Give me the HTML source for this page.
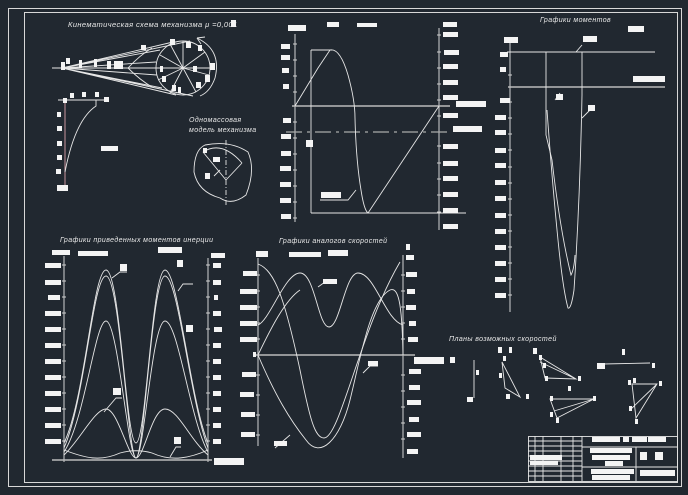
<!DOCTYPE html>
<html><head><meta charset="utf-8"><style>
html,body{margin:0;padding:0;background:#212830;}
svg{display:block}
text{font-family:"Liberation Sans","DejaVu Sans",sans-serif;font-style:italic;fill:#e8e8e8;font-size:7px;letter-spacing:0.4px}
</style></head><body>
<svg width="688" height="495" viewBox="0 0 688 495" xmlns="http://www.w3.org/2000/svg">
<rect width="688" height="495" fill="#212830"/>
<g fill="none" stroke="#d8d8d8" stroke-width="1">
<rect x="8.5" y="8.5" width="673" height="478"/>
<rect x="24.5" y="12.5" width="653" height="470"/>
</g>
<g fill="none" stroke="#e6e6e6" stroke-width="0.9">
<line x1="52" y1="68" x2="214" y2="68"/>
<circle cx="183" cy="68" r="27"/>
<path d="M62 68 L173 42 M62 68 L190 41 M62 68 L176 95 M62 68 L193 96 M62 68 L156 62 M62 68 L157 75 M62 68 L160 50 M62 68 L162 88"/>
<path d="M183 68 L183 41 M183 68 L205 52 M183 68 L209 75 M183 68 L196 92 M183 68 L170 93 M183 68 L158 80 M183 68 L160 55 M183 68 L170 44"/>
<path d="M128 68 Q140 55 152 48 M128 68 Q140 80 152 87"/>
<path d="M197 38 Q222 50 215 78 Q210 92 200 96"/>
<path d="M197 38 l8 -1 M197 38 l4 6"/>
<line x1="58" y1="100" x2="108" y2="100"/>
<line x1="65" y1="100" x2="65" y2="190" stroke="#d9a0a8"/>
<path d="M96 100 L96 106 Q75 120 65 172"/>
<path d="M205 145 Q230 140 248 152 Q256 170 246 195 Q232 206 220 198 Q198 192 194 172 Q194 150 205 145 Z"/>
<path d="M203 152 L226 180 L242 163 M203 152 Q222 140 242 163"/>
<line x1="226" y1="140" x2="226" y2="205" stroke-dasharray="5 2 1 2"/>
<line x1="214" y1="176" x2="220" y2="170"/>
<line x1="295" y1="34" x2="295" y2="222"/>
<line x1="439" y1="28" x2="439" y2="230"/>
<line x1="292" y1="106" x2="450" y2="106" stroke-width="1.5" stroke="#bbb"/>
<line x1="286" y1="132" x2="448" y2="132" stroke-dasharray="16 5 3 5" stroke="#aaa" stroke-width="1.3"/>
<line x1="311" y1="50" x2="311" y2="213"/>
<line x1="311" y1="50" x2="332" y2="50"/>
<line x1="311" y1="213" x2="466" y2="213"/>
<path d="M295 106 L318 68 L330 50 Q340 48 348 75 Q355 100 355 118 Q356 160 361 190 Q364 210 368 213 L439 106"/>
<path d="M320 200 L348 200 L356 190"/>
<line x1="510" y1="38" x2="510" y2="312"/>
<line x1="507" y1="52" x2="655" y2="52"/>
<line x1="508" y1="87" x2="665" y2="87" stroke-width="1.5" stroke="#bbb"/>
<path d="M546 52 L546 135 L552 160 Q560 230 571 275 Q574 270 575 255"/>
<path d="M582 52 L582 95 Q580 200 574 290 Q571 310 568 308 Q563 290 558 240 Q552 180 547 110"/>
<path d="M576 52 L582 45 M555 100 L560 93 M582 118 L590 110"/>
<line x1="64" y1="256" x2="64" y2="462"/>
<line x1="208" y1="258" x2="208" y2="462"/>
<line x1="52" y1="460" x2="212" y2="460" stroke-width="1.5" stroke="#bbb"/>
<path d="M64 443 C85 400 93 270 106 270 C120 270 126 443 136 443 C146 443 152 270 165 270 C178 270 190 400 208 443"/>
<path d="M64 448 C85 400 93 276 106 276 C120 276 128 458 136 458 C144 458 152 276 165 276 C178 276 190 400 208 448"/>
<path d="M64 452 C85 420 95 321 106 321 C118 321 128 458 136 458 C144 458 152 321 165 321 C178 321 190 420 208 452"/>
<path d="M64 455 C80 440 95 409 106 409 C118 409 128 458 136 458 C144 458 152 409 165 409 C178 409 190 440 208 455"/>
<path d="M64 450 C85 458 100 462 120 453 C130 450 142 450 152 453 C172 462 190 458 208 450"/>
<path d="M112 278 L120 272 L127 272 M178 291 L183 284 L193 284 M104 412 L116 398 L122 398 M170 457 L176 447 L181 447"/>
<line x1="258" y1="258" x2="258" y2="446"/>
<line x1="403" y1="255" x2="403" y2="458"/>
<line x1="256" y1="355" x2="415" y2="355" stroke-width="1.5" stroke="#bbb"/>
<path d="M258 264 C275 270 285 300 300 370 C310 420 315 438 324 438 C340 438 360 330 400 262"/>
<path d="M258 325 C270 320 285 273 300 273 C315 273 318 327 329 327 C340 327 345 273 358 273 C375 273 385 320 403 325"/>
<path d="M258 355 C275 395 290 420 306 440 C320 460 340 440 350 400 C360 360 370 300 390 290 C398 287 402 300 403 355"/>
<path d="M258 355 C270 330 285 300 300 290"/>
<path d="M318 287 L325 282 L335 282 M363 373 L370 366 L378 366 M275 448 L290 435"/>
<line x1="474" y1="360" x2="474" y2="398"/>
<path d="M502 362 L505 388 L520 397 Z"/>
<path d="M540 357 L576 379 L545 378 Z M540 362 L576 379"/>
<path d="M550 399 L594 399 L557 418 Z M554 411 L594 399"/>
<path d="M603 364 L650 363"/>
<path d="M632 384 L657 384 L636 418 Z M630 410 L657 384"/>
<rect x="528.5" y="436.5" width="149" height="45"/>
<line x1="582" y1="436" x2="582" y2="481"/>
<line x1="636" y1="447" x2="636" y2="481"/>
<line x1="582" y1="447" x2="678" y2="447"/>
<line x1="582" y1="467" x2="678" y2="467"/>
<path d="M528 441 H582 M528 446 H582 M528 451 H582 M528 456 H582 M528 461 H582 M528 466 H582 M528 471 H582 M528 476 H582"/>
<path d="M535 436 V481 M543 436 V481 M561 436 V481 M573 436 V481"/>
</g>
<g stroke="#cfcfcf" stroke-width="1">
<path d="M293 44h4M293 60h4M293 76h4M293 92h4M293 122h4M293 138h4M293 154h4M293 170h4M293 186h4M293 202h4M293 218h4"/>
<path d="M437 35h4M437 52h4M437 68h4M437 84h4M437 100h4M437 116h4M437 146h4M437 163h4M437 179h4M437 195h4M437 212h4"/>
<path d="M508 75h4M508 102h4M508 118h4M508 134h4M508 150h4M508 167h4M508 183h4M508 199h4M508 215h4M508 231h4M508 247h4M508 263h4M508 279h4M508 295h4"/>
<path d="M62 265h4M62 281h4M62 297h4M62 313h4M62 329h4M62 345h4M62 361h4M62 377h4M62 393h4M62 409h4M62 425h4M62 441h4"/>
<path d="M206 265h4M206 281h4M206 297h4M206 313h4M206 329h4M206 345h4M206 361h4M206 377h4M206 393h4M206 409h4M206 425h4M206 441h4"/>
<path d="M256 275h4M256 291h4M256 307h4M256 323h4M256 339h4M256 375h4M256 395h4M256 415h4M256 435h4"/>
<path d="M401 275h4M401 291h4M401 307h4M401 323h4M401 339h4M401 375h4M401 391h4M401 407h4M401 423h4M401 439h4"/>
</g>
<text x="68" y="27" style="font-size:7.5px">Кинематическая схема механизма  μ =0,001</text>
<text x="189" y="122">Одномассовая</text>
<text x="189" y="132">модель механизма</text>
<text x="540" y="22">Графики моментов</text>
<text x="60" y="242">Графики приведенных моментов инерции</text>
<text x="279" y="243">Графики аналогов скоростей</text>
<text x="449" y="341">Планы возможных скоростей</text>
<g fill="#f4f4f4">
<rect x="231" y="20" width="5" height="7"/>
<rect x="281" y="44" width="9" height="5"/><rect x="281" y="55" width="9" height="5"/><rect x="282" y="68" width="7" height="5"/><rect x="283" y="84" width="6" height="5"/><rect x="283" y="118" width="8" height="5"/><rect x="281" y="134" width="10" height="5"/><rect x="281" y="151" width="10" height="5"/><rect x="280" y="166" width="11" height="5"/><rect x="280" y="182" width="11" height="5"/><rect x="280" y="198" width="11" height="5"/><rect x="281" y="214" width="10" height="5"/>
<rect x="288" y="25" width="18" height="6"/><rect x="327" y="22" width="12" height="5"/><rect x="357" y="23" width="20" height="4"/>
<rect x="443" y="22" width="14" height="5"/><rect x="443" y="32" width="15" height="5"/><rect x="444" y="50" width="15" height="5"/><rect x="443" y="64" width="15" height="5"/><rect x="443" y="80" width="15" height="5"/><rect x="443" y="95" width="15" height="5"/><rect x="443" y="113" width="15" height="5"/><rect x="443" y="144" width="15" height="5"/><rect x="443" y="161" width="15" height="5"/><rect x="443" y="176" width="15" height="5"/><rect x="443" y="192" width="15" height="5"/><rect x="443" y="208" width="15" height="5"/><rect x="443" y="224" width="15" height="5"/>
<rect x="456" y="101" width="30" height="6"/><rect x="453" y="126" width="29" height="6"/><rect x="306" y="140" width="7" height="7"/><rect x="321" y="192" width="20" height="6"/>
<rect x="504" y="37" width="14" height="6"/><rect x="628" y="26" width="16" height="6"/><rect x="583" y="36" width="14" height="6"/><rect x="633" y="76" width="32" height="6"/>
<rect x="500" y="52" width="8" height="5"/><rect x="500" y="67" width="6" height="5"/><rect x="500" y="98" width="10" height="5"/><rect x="495" y="115" width="11" height="5"/><rect x="495" y="130" width="11" height="5"/><rect x="495" y="148" width="11" height="5"/><rect x="495" y="163" width="11" height="5"/><rect x="495" y="180" width="11" height="5"/><rect x="495" y="196" width="11" height="5"/><rect x="495" y="213" width="11" height="5"/><rect x="495" y="229" width="11" height="5"/><rect x="495" y="245" width="11" height="5"/><rect x="495" y="261" width="11" height="5"/><rect x="495" y="277" width="11" height="5"/><rect x="495" y="293" width="11" height="5"/>
<rect x="556" y="94" width="7" height="6"/><rect x="588" y="105" width="7" height="6"/>
<rect x="45" y="263" width="16" height="5"/><rect x="45" y="280" width="16" height="5"/><rect x="48" y="295" width="12" height="5"/><rect x="45" y="311" width="16" height="5"/><rect x="45" y="327" width="16" height="5"/><rect x="45" y="343" width="16" height="5"/><rect x="45" y="359" width="16" height="5"/><rect x="45" y="375" width="16" height="5"/><rect x="45" y="391" width="16" height="5"/><rect x="45" y="407" width="16" height="5"/><rect x="45" y="423" width="16" height="5"/><rect x="45" y="439" width="16" height="5"/>
<rect x="52" y="250" width="18" height="5"/><rect x="78" y="251" width="30" height="5"/><rect x="158" y="247" width="24" height="6"/><rect x="211" y="253" width="14" height="5"/>
<rect x="213" y="263" width="8" height="5"/><rect x="213" y="280" width="8" height="5"/><rect x="214" y="295" width="4" height="5"/><rect x="213" y="311" width="8" height="5"/><rect x="214" y="327" width="8" height="5"/><rect x="213" y="343" width="8" height="5"/><rect x="213" y="359" width="8" height="5"/><rect x="213" y="375" width="8" height="5"/><rect x="213" y="391" width="8" height="5"/><rect x="213" y="407" width="8" height="5"/><rect x="213" y="423" width="8" height="5"/><rect x="213" y="439" width="8" height="5"/>
<rect x="214" y="458" width="30" height="7"/><rect x="120" y="264" width="7" height="7"/><rect x="177" y="260" width="6" height="7"/><rect x="186" y="325" width="7" height="7"/><rect x="113" y="388" width="8" height="7"/><rect x="174" y="437" width="7" height="7"/>
<rect x="256" y="251" width="12" height="6"/><rect x="289" y="252" width="32" height="5"/><rect x="328" y="250" width="20" height="6"/><rect x="406" y="244" width="4" height="6"/>
<rect x="243" y="271" width="14" height="5"/><rect x="240" y="289" width="17" height="5"/><rect x="240" y="305" width="17" height="5"/><rect x="240" y="321" width="17" height="5"/><rect x="240" y="337" width="17" height="5"/><rect x="253" y="352" width="3" height="5"/><rect x="242" y="372" width="14" height="5"/><rect x="240" y="392" width="14" height="5"/><rect x="241" y="412" width="14" height="5"/><rect x="241" y="432" width="14" height="5"/>
<rect x="406" y="255" width="8" height="5"/><rect x="406" y="272" width="11" height="5"/><rect x="407" y="289" width="8" height="5"/><rect x="406" y="305" width="10" height="5"/><rect x="409" y="321" width="7" height="5"/><rect x="408" y="337" width="10" height="5"/><rect x="409" y="369" width="12" height="5"/><rect x="409" y="385" width="11" height="5"/><rect x="407" y="400" width="14" height="5"/><rect x="409" y="417" width="10" height="5"/><rect x="407" y="432" width="14" height="5"/><rect x="407" y="449" width="11" height="5"/>
<rect x="414" y="357" width="30" height="7"/><rect x="323" y="279" width="14" height="5"/><rect x="368" y="361" width="10" height="5"/><rect x="274" y="441" width="13" height="5"/>
<rect x="63" y="98" width="4" height="5"/><rect x="70" y="93" width="4" height="5"/><rect x="82" y="92" width="4" height="5"/><rect x="95" y="92" width="4" height="5"/><rect x="104" y="97" width="5" height="5"/>
<rect x="57" y="112" width="4" height="5"/><rect x="57" y="126" width="5" height="5"/><rect x="57" y="141" width="5" height="5"/><rect x="57" y="155" width="5" height="5"/><rect x="56" y="169" width="5" height="5"/><rect x="57" y="185" width="11" height="6"/><rect x="101" y="146" width="17" height="5"/>
<rect x="61" y="62" width="4" height="8"/><rect x="66" y="58" width="4" height="6"/><rect x="79" y="60" width="3" height="8"/><rect x="94" y="59" width="3" height="8"/><rect x="107" y="61" width="4" height="8"/><rect x="114" y="61" width="5" height="8"/><rect x="118" y="61" width="5" height="8"/><rect x="141" y="45" width="5" height="5"/><rect x="170" y="39" width="5" height="6"/><rect x="186" y="42" width="5" height="6"/><rect x="198" y="45" width="4" height="6"/><rect x="210" y="63" width="5" height="7"/><rect x="205" y="75" width="5" height="7"/><rect x="196" y="82" width="5" height="6"/><rect x="172" y="85" width="4" height="6"/><rect x="162" y="76" width="4" height="6"/><rect x="160" y="66" width="3" height="6"/><rect x="193" y="66" width="4" height="6"/><rect x="178" y="87" width="3" height="6"/>
<rect x="203" y="148" width="4" height="5"/><rect x="213" y="157" width="7" height="5"/><rect x="205" y="173" width="5" height="6"/>
<rect x="498" y="347" width="4" height="6"/><rect x="509" y="347" width="3" height="6"/><rect x="533" y="348" width="4" height="6"/><rect x="622" y="349" width="3" height="6"/><rect x="597" y="363" width="8" height="6"/><rect x="652" y="363" width="3" height="5"/><rect x="467" y="397" width="6" height="5"/><rect x="476" y="370" width="3" height="5"/><rect x="503" y="356" width="3" height="5"/><rect x="499" y="373" width="3" height="5"/><rect x="506" y="394" width="4" height="5"/><rect x="526" y="394" width="3" height="5"/><rect x="539" y="355" width="3" height="5"/><rect x="543" y="363" width="3" height="5"/><rect x="578" y="376" width="3" height="5"/><rect x="545" y="376" width="3" height="5"/><rect x="568" y="386" width="3" height="5"/><rect x="550" y="396" width="3" height="5"/><rect x="593" y="396" width="3" height="5"/><rect x="550" y="412" width="3" height="5"/><rect x="556" y="418" width="3" height="5"/><rect x="628" y="380" width="3" height="5"/><rect x="659" y="381" width="3" height="5"/><rect x="633" y="378" width="3" height="5"/><rect x="629" y="406" width="3" height="5"/><rect x="635" y="419" width="3" height="5"/><rect x="450" y="357" width="5" height="6"/>
<rect x="592" y="437" width="28" height="5"/><rect x="623" y="437" width="6" height="5"/><rect x="632" y="437" width="15" height="5"/><rect x="648" y="437" width="18" height="5"/>
<rect x="590" y="448" width="42" height="5"/><rect x="592" y="455" width="38" height="5"/><rect x="605" y="461" width="18" height="5"/><rect x="591" y="469" width="43" height="5"/><rect x="592" y="475" width="38" height="5"/>
<rect x="640" y="452" width="7" height="8"/><rect x="655" y="452" width="8" height="8"/><rect x="640" y="470" width="35" height="6"/>
<rect x="530" y="455" width="32" height="5"/><rect x="530" y="461" width="28" height="4"/>
</g>
</svg>
</body></html>
